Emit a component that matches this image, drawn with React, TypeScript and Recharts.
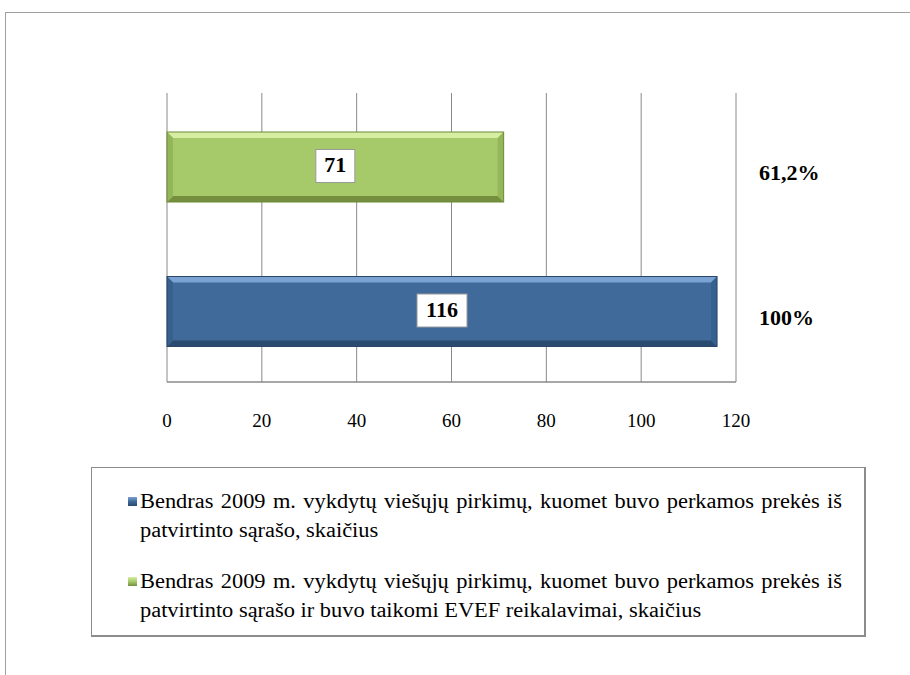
import React from 'react';
import { BarChart, Bar, XAxis, YAxis, CartesianGrid, Legend, LabelList } from 'recharts';

const categories = ['EVEF', 'Bendras'];
const percentLabels = ['61,2%', '100%'];
const totalValues = [null, 116];
const evefValues = [71, null];
const xTicks = [0, 20, 40, 60, 80, 100, 120];
const seriesKeys = ['total', 'evef'];
const seriesNameLines = [
  ['Bendras 2009 m. vykdytų viešųjų pirkimų, kuomet buvo perkamos prekės iš', 'patvirtinto sąrašo, skaičius'],
  ['Bendras 2009 m. vykdytų viešųjų pirkimų, kuomet buvo perkamos prekės iš', 'patvirtinto sąrašo ir buvo taikomi EVEF reikalavimai, skaičius'],
];

const palette: Record<string, { main: string; top: string; bottom: string; side: string; edge: string }> = {
  total: { main: '#3f6a9a', top: '#7aa2d2', bottom: '#2b4a6f', side: '#36608d', edge: '#2a4568' },
  evef: { main: '#a6c96a', top: '#d6eea2', bottom: '#74903e', side: '#94b65a', edge: '#6f8a3a' },
};

const data = categories.map((c, i) => ({
  name: c,
  pct: percentLabels[i],
  total: totalValues[i],
  evef: evefValues[i],
}));

const FONT = '"Liberation Serif", "Times New Roman", serif';
const SCALE = 1.12;

const makeShape = (key: string) => (props: any) => {
  const { x, width, height } = props;
  if (!width || width <= 0 || !height) return null;
  const y = props.y + 2;
  const c = palette[key];
  const b = 6;
  const x2 = x + width;
  const y2 = y + height;
  return (
    <g>
      <rect x={x} y={y} width={width} height={height} fill={c.main} />
      <polygon points={`${x},${y} ${x2},${y} ${x2 - b},${y + b} ${x + b},${y + b}`} fill={c.top} />
      <polygon points={`${x},${y2} ${x2},${y2} ${x2 - b},${y2 - b} ${x + b},${y2 - b}`} fill={c.bottom} />
      <polygon points={`${x},${y} ${x + b},${y + b} ${x + b},${y2 - b} ${x},${y2}`} fill={c.side} />
      <polygon points={`${x2},${y} ${x2 - b},${y + b} ${x2 - b},${y2 - b} ${x2},${y2}`} fill={c.side} />
      <rect x={x} y={y} width={width} height={height} fill="none" stroke={c.edge} strokeWidth={1} />
    </g>
  );
};

const ValueBox = (props: any) => {
  const { x, y, width, height, value } = props;
  if (value === null || value === undefined || !width) return null;
  const txt = String(value);
  const w = txt.length * 11 + 17;
  const h = 33;
  const cx = x + width / 2;
  const cy = y + height / 2 + 1;
  return (
    <g>
      <rect x={cx - w / 2} y={cy - h / 2} width={w} height={h} fill="#ffffff" stroke="#9a9a9a" strokeWidth={1} />
      <text x={cx} y={cy + 1} textAnchor="middle" dominantBaseline="middle" fontFamily={FONT} fontWeight="bold" fontSize={22} fill="#000">
        {txt}
      </text>
    </g>
  );
};

const LegendContent = () => (
  <div
    style={{
      boxSizing: 'border-box',
      width: 775,
      height: 170,
      border: '1px solid #8c8c8c',
      borderRightWidth: 2,
      borderBottomWidth: 2,
      background: '#fff',
      padding: '19px 10px 0 36px',
      fontFamily: FONT,
      fontSize: 20,
      lineHeight: '29px',
      color: '#000',
    }}
  >
    {seriesKeys.map((k, i) => (
      <div key={k} style={{ position: 'relative', paddingLeft: 12, marginBottom: i === 0 ? 22 : 0 }}>
        <span
          style={{
            position: 'absolute',
            left: 0,
            top: 10,
            width: 9,
            height: 9,
            background: `linear-gradient(${palette[k].top}, ${palette[k].main} 50%, ${palette[k].bottom})`,
          }}
        />
        {seriesNameLines[i].map((line, j) => {
          const last = j === seriesNameLines[i].length - 1;
          return (
            <div
              key={j}
              style={{
                whiteSpace: 'nowrap',
                width: last ? undefined : 702 / SCALE,
                textAlign: last ? 'left' : 'justify',
                textAlignLast: last ? 'left' : 'justify',
                transform: `scaleX(${SCALE})`,
                transformOrigin: 'left center',
              }}
            >
              {line}
            </div>
          );
        })}
      </div>
    ))}
  </div>
);

export default function App() {
  return (
    <div style={{ position: 'absolute', left: 0, top: 0, width: 910, height: 675, background: '#fff', overflow: 'hidden' }}>
      <div
        style={{
          position: 'absolute',
          left: 5,
          top: 12,
          width: 920,
          height: 700,
          borderLeft: '1.5px solid #a0a0a0',
          borderTop: '1.5px solid #a0a0a0',
        }}
      />
      <BarChart
        width={910}
        height={675}
        data={data}
        layout="vertical"
        margin={{ top: 93, right: 54, left: 167, bottom: 263 }}
        style={{ position: 'absolute', left: 0, top: 0 }}
      >
        <CartesianGrid horizontal={false} vertical={true} stroke="#8a8a8a" strokeWidth={1} />
        <XAxis
          type="number"
          domain={[0, 120]}
          ticks={xTicks}
          interval={0}
          height={30}
          axisLine={{ stroke: '#8a8a8a', strokeWidth: 1.5 }}
          tickLine={false}
          tickSize={6}
          tickMargin={26}
          tick={{ fill: '#000', fontSize: 19, fontFamily: FONT }}
        />
        <YAxis
          type="category"
          dataKey="pct"
          orientation="right"
          width={120}
          axisLine={false}
          tickLine={false}
          tickSize={0}
          tickMargin={23}
          tick={{ fill: '#000', fontSize: 22, fontWeight: 'bold', fontFamily: FONT, textAnchor: 'start', dy: 7 }}
        />
        {seriesKeys.map((k, i) => (
          <Bar
            key={k}
            dataKey={k}
            name={seriesNameLines[i].join(' ')}
            stackId="a"
            barSize={70}
            fill={palette[k].main}
            shape={makeShape(k)}
            isAnimationActive={false}
          >
            <LabelList dataKey={k} content={ValueBox} />
          </Bar>
        ))}
        <Legend
          layout="vertical"
          align="center"
          verticalAlign="middle"
          content={LegendContent}
          wrapperStyle={{ position: 'absolute', left: 91, top: 467, width: 775, height: 170 }}
        />
      </BarChart>
    </div>
  );
}
